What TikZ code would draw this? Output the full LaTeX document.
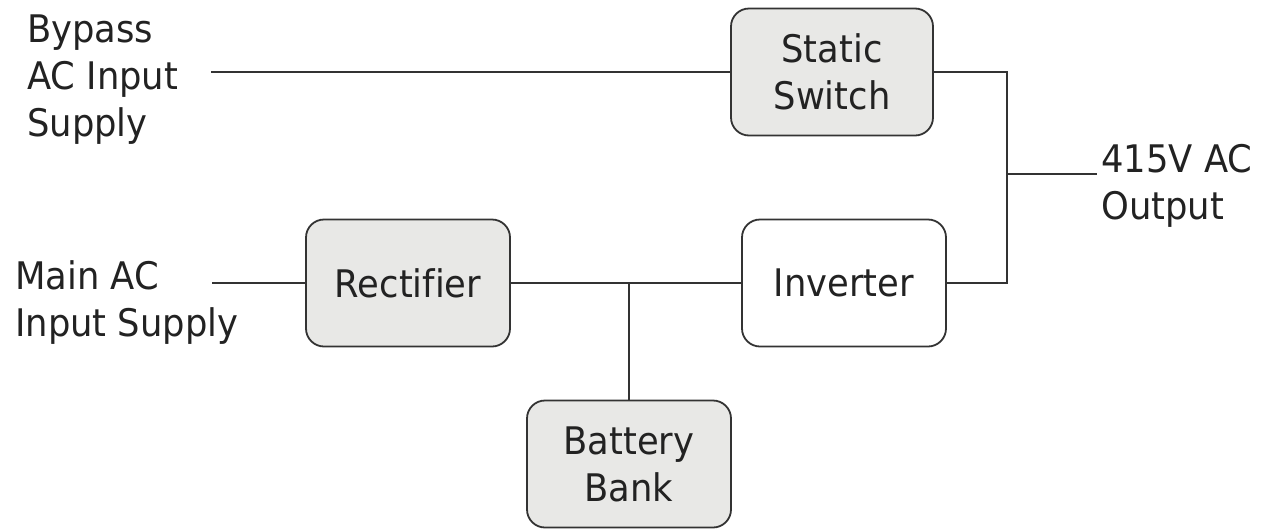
\documentclass[tikz,border=0pt]{standalone}
\usepackage{fontspec}
\setmainfont{DejaVu Sans}[FakeStretch=0.93, Ligatures=NoCommon]
\definecolor{boxfill}{HTML}{E8E8E6}
\definecolor{ink}{HTML}{333333}
\definecolor{textink}{HTML}{222222}
\tikzset{
  block/.style={draw=ink, line width=1.8pt, rounded corners=18pt,
    minimum width=204pt, minimum height=127pt, inner sep=0pt,
    align=center, text=textink, font=\fontsize{38}{47}\selectfont},
  grayblock/.style={block, fill=boxfill},
  whiteblock/.style={block, fill=white},
  label/.style={inner sep=0pt, align=left, anchor=north west, text=textink,
    font=\fontsize{38}{47}\selectfont},
  wire/.style={draw=ink, line width=1.8pt}
}
\begin{document}
\begin{tikzpicture}[x=1pt, y=-1pt]
  \fill[white] (0,0) rectangle (1266,528);
  \useasboundingbox (0,0) rectangle (1266,528);

  % blocks
  \node[grayblock, minimum width=202pt] (ss) at (832,72) {Static\\Switch};
  \node[grayblock] (rect) at (408,283) {Rectifier};
  \node[whiteblock] (inv) at (844,283) {Inverter};
  \node[grayblock] (bat) at (629,464) {Battery\\Bank};

  % supply and output labels
  \node[label] (bypass) at (27,15) {Bypass\\AC Input\\Supply};
  \node[label] (mains) at (15,260) {Main AC\\Input Supply};
  \node[label] (out) at (1101,144) {415V AC\\Output};

  % wire end points and output bus
  \coordinate (bypassin) at (211,72);
  \coordinate (mainsin) at (212,283);
  \coordinate (bus) at (1007,174);
  \coordinate (outend) at (1097,174);

  % wiring
  \draw[wire] (bypassin) -- (ss.west);
  \draw[wire] (mainsin) -- (rect.west);
  \draw[wire] (rect.east) -- (inv.west);
  \draw[wire] (bat.north) -- (bat.north |- rect.east);
  \draw[wire] (ss.east) -- (ss.east -| bus) -- (inv.east -| bus) -- (inv.east);
  \draw[wire] (bus) -- (outend);
\end{tikzpicture}
\end{document}
